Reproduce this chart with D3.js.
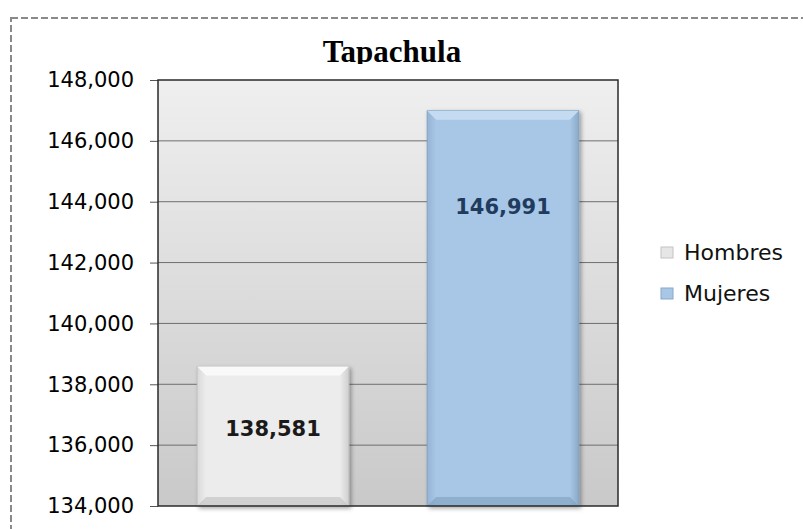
<!DOCTYPE html>
<html><head><meta charset="utf-8">
<script src="https://cdn.jsdelivr.net/npm/d3@7"></script>
<style>body{margin:0;background:#fff}svg{display:block}</style>
</head><body>
<svg id="c" width="803" height="529"></svg>
<script>
const title = "Tapachula";
const categories = ["Hombres", "Mujeres"];
const values = [138581, 146991];
const labelAnchors = [136560, 143870];
const yTicks = [134000, 136000, 138000, 140000, 142000, 144000, 146000, 148000];
const yDomain = [134000, 148000];

const svg = d3.select("#c");
const W = 803, H = 529;
const m = {left:158, right:618, top:80, bottom:506};

const defs = svg.append("defs");
const bg = defs.append("linearGradient").attr("id","bg").attr("x1",0).attr("y1",0).attr("x2",0).attr("y2",1);
bg.append("stop").attr("offset","0%").attr("stop-color","#efefef");
bg.append("stop").attr("offset","100%").attr("stop-color","#c9c9c9");
const gH = defs.append("linearGradient").attr("id","gH").attr("x1",0).attr("y1",0).attr("x2",1).attr("y2",0);
gH.append("stop").attr("offset","0%").attr("stop-color","#d9d9d9");
gH.append("stop").attr("offset","6%").attr("stop-color","#ececec");
gH.append("stop").attr("offset","94%").attr("stop-color","#ececec");
gH.append("stop").attr("offset","100%").attr("stop-color","#cfcfcf");
const gM = defs.append("linearGradient").attr("id","gM").attr("x1",0).attr("y1",0).attr("x2",1).attr("y2",0);
gM.append("stop").attr("offset","0%").attr("stop-color","#95b4d6");
gM.append("stop").attr("offset","6%").attr("stop-color","#a8c7e6");
gM.append("stop").attr("offset","94%").attr("stop-color","#a8c7e6");
gM.append("stop").attr("offset","100%").attr("stop-color","#8aa8c8");
const sh = defs.append("filter").attr("id","sh").attr("x","-10%").attr("y","-10%").attr("width","130%").attr("height","130%");
sh.append("feDropShadow").attr("dx",2).attr("dy",2).attr("stdDeviation",2).attr("flood-color","#000").attr("flood-opacity",0.35);
const clipT = defs.append("clipPath").attr("id","clipT");
clipT.append("rect").attr("x",0).attr("y",0).attr("width",W).attr("height",64);

// dashed outer border
svg.append("rect").attr("x",11).attr("y",18).attr("width",W+20).attr("height",H+20)
  .attr("fill","none").attr("stroke","#8a8a8a").attr("stroke-width",2).attr("stroke-dasharray","7,3");

const x = d3.scaleBand().domain(categories).range([m.left, m.right]).paddingInner(0.34).paddingOuter(0.17);
const y = d3.scaleLinear().domain(yDomain).range([m.bottom, m.top]);

// plot area
svg.append("rect").attr("x",m.left).attr("y",m.top).attr("width",m.right-m.left).attr("height",m.bottom-m.top)
  .attr("fill","url(#bg)");

// gridlines
svg.append("g").selectAll("line").data(yTicks.filter(t=>t>yDomain[0] && t<yDomain[1])).join("line")
  .attr("x1",m.left).attr("x2",m.right).attr("y1",d=>y(d)).attr("y2",d=>y(d))
  .attr("stroke","#6e6e6e").attr("stroke-width",1);

// axis
const axis = d3.axisLeft(y).tickValues(yTicks).tickSize(8).tickPadding(16).tickFormat(d3.format(","));
const ga = svg.append("g").attr("transform",`translate(${m.left},0)`).call(axis);
ga.select(".domain").remove();
ga.selectAll(".tick line").attr("stroke","#555");
ga.selectAll("text").attr("font-family","DejaVu Sans, sans-serif").attr("font-size",21).attr("fill","#000");

// bars
const fills = {"Hombres":"url(#gH)","Mujeres":"url(#gM)"};
const tops = {"Hombres":"#fafafa","Mujeres":"#c6dcf1"};
const bars = svg.append("g");
categories.forEach((c,i)=>{
  const x0 = x(c), w = x.bandwidth(), yt = y(values[i]), yb = y(yDomain[0]);
  const g = bars.append("g");
  g.append("rect").attr("x",x0).attr("y",yt).attr("width",w).attr("height",yb-yt)
    .attr("fill",fills[c]).attr("filter","url(#sh)").attr("stroke", i ? "#7f9cbc" : "#bdbdbd").attr("stroke-width",0.8);
  const b = 9;
  g.append("path").attr("d",`M${x0},${yt}L${x0+w},${yt}L${x0+w-b},${yt+b}L${x0+b},${yt+b}Z`)
    .attr("fill",tops[c]).attr("opacity",0.95);
  g.append("path").attr("d",`M${x0},${yb}L${x0+w},${yb}L${x0+w-b},${yb-b}L${x0+b},${yb-b}Z`)
    .attr("fill", i ? "#7f9ec0" : "#bfbfbf").attr("opacity",0.6);
});

// data labels
svg.append("g").selectAll("text").data(categories).join("text")
  .attr("x",d=>x(d)+x.bandwidth()/2).attr("y",(d,i)=>y(labelAnchors[i])+8)
  .attr("text-anchor","middle").attr("font-family","DejaVu Sans, sans-serif").attr("font-size",21)
  .attr("font-weight","bold")
  .attr("fill",(d,i)=> i ? "#1f3b5e" : "#1a1a1a")
  .text((d,i)=>d3.format(",")(values[i]));

// plot border
svg.append("rect").attr("x",m.left).attr("y",m.top).attr("width",m.right-m.left).attr("height",m.bottom-m.top)
  .attr("fill","none").attr("stroke","#2a2a2a").attr("stroke-width",1.5);

// title
svg.append("text").attr("x",392).attr("y",62).attr("text-anchor","middle")
  .attr("font-family","Liberation Serif, serif").attr("font-weight","bold").attr("font-size",31)
  .attr("clip-path","url(#clipT)").attr("fill","#000").text(title);

// legend
const lg = svg.append("g");
const ly = [253, 294];
categories.forEach((c,i)=>{
  lg.append("rect").attr("x",661).attr("y",ly[i]-6).attr("width",12).attr("height",11)
    .attr("fill", i ? "#a8c7e6" : "#e6e6e6").attr("stroke", i ? "#8aa8c8" : "#c4c4c4");
  lg.append("text").attr("x",684).attr("y",ly[i]+7).attr("font-family","DejaVu Sans, sans-serif")
    .attr("font-size",22).attr("fill","#111").text(c);
});
</script>
</body></html>
